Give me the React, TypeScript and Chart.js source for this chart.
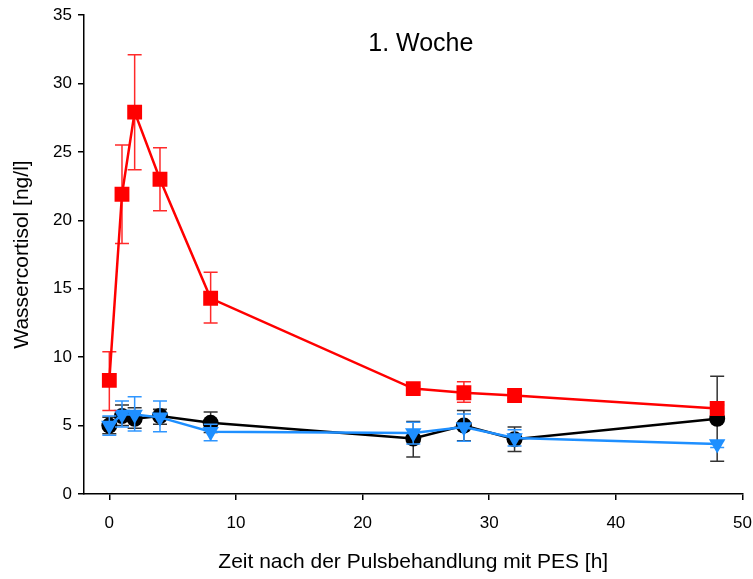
import React, { useEffect, useRef } from "react";
import { Chart, registerables } from "chart.js";

Chart.register(...registerables);

const times = [0, 1, 2, 4, 8, 24, 28, 32, 48];

const redValues = [8.3, 21.9, 27.9, 23.0, 14.3, 7.7, 7.4, 7.2, 6.25];
const redLow = [6.1, 18.3, 23.7, 20.7, 12.5, 7.5, 6.7, 7.0, 6.0];
const redHigh = [10.4, 25.5, 32.1, 25.3, 16.2, 7.9, 8.2, 7.4, 6.5];

const blackValues = [5.0, 5.7, 5.5, 5.7, 5.2, 4.05, 5.0, 4.0, 5.5];
const blackLow = [4.4, 5.0, 4.8, 5.1, 4.5, 2.7, 3.9, 3.1, 2.4];
const blackHigh = [5.6, 6.5, 6.3, 6.2, 6.0, 5.3, 6.1, 4.9, 8.6];

const blueValues = [5.0, 5.8, 5.8, 5.6, 4.55, 4.45, 4.9, 4.1, 3.65];
const blueLow = [4.3, 4.9, 4.6, 4.55, 3.9, 3.65, 3.85, 3.5, 3.4];
const blueHigh = [5.7, 6.8, 7.1, 6.8, 5.1, 5.25, 5.85, 4.7, 3.9];

const yTickLabels = ["0", "5", "10", "15", "20", "25", "30", "35"];
const xTickLabels = ["0", "10", "20", "30", "40", "50"];

const titleText = "1. Woche";
const xTitle = "Zeit nach der Pulsbehandlung mit PES [h]";
const yTitle = "Wassercortisol [ng/l]";

const FONT = "'Liberation Sans', Arial, sans-serif";

const errorBars: { low: number[]; high: number[]; color: string }[] = [
  { low: redLow, high: redHigh, color: "#ff2a2a" },
  { low: blueLow, high: blueHigh, color: "#2f96ff" },
  { low: blackLow, high: blackHigh, color: "#333333" },
];

const errorBarPlugin = {
  id: "errorBars",
  beforeDatasetDraw(chart: any, args: any) {
    const idx = args.index;
    const eb = errorBars[idx];
    if (!eb) return;
    const xs = chart.scales.x;
    const ys = chart.scales.y;
    const ctx = chart.ctx;
    ctx.save();
    ctx.strokeStyle = eb.color;
    ctx.lineWidth = 1.5;
    const cap = 7;
    times.forEach((t, i) => {
      const px = xs.getPixelForValue(t);
      const pl = ys.getPixelForValue(eb.low[i]);
      const ph = ys.getPixelForValue(eb.high[i]);
      ctx.beginPath();
      ctx.moveTo(px, pl);
      ctx.lineTo(px, ph);
      ctx.moveTo(px - cap, pl);
      ctx.lineTo(px + cap, pl);
      ctx.moveTo(px - cap, ph);
      ctx.lineTo(px + cap, ph);
      ctx.stroke();
    });
    ctx.restore();
  },
};

const titlePlugin = {
  id: "innerTitle",
  afterDraw(chart: any) {
    const ctx = chart.ctx;
    const xs = chart.scales.x;
    const ys = chart.scales.y;
    ctx.save();
    ctx.font = `25px ${FONT}`;
    ctx.fillStyle = "#000";
    ctx.textAlign = "center";
    ctx.textBaseline = "middle";
    ctx.fillText(titleText, xs.getPixelForValue(24.6), ys.getPixelForValue(32.9));
    ctx.restore();
  },
};

export default function App() {
  const ref = useRef<HTMLCanvasElement | null>(null);

  useEffect(() => {
    if (!ref.current) return;
    const mk = (vals: number[]) => times.map((t, i) => ({ x: t, y: vals[i] }));
    const chart = new Chart(ref.current, {
      type: "line",
      data: {
        datasets: [
          {
            label: "rot",
            data: mk(redValues),
            borderColor: "#ff0000",
            backgroundColor: "#ff0000",
            borderWidth: 2.5,
            pointStyle: "rect",
            pointRadius: 10.5,
            pointBorderWidth: 0,
            order: 0,
          },
          {
            label: "blau",
            data: mk(blueValues),
            borderColor: "#1e8fff",
            backgroundColor: "#1e8fff",
            borderWidth: 2.5,
            pointStyle: "triangle",
            pointRotation: 180,
            pointRadius: 9.5,
            pointBorderWidth: 0,
            order: 1,
          },
          {
            label: "schwarz",
            data: mk(blackValues),
            borderColor: "#000000",
            backgroundColor: "#000000",
            borderWidth: 2.5,
            pointStyle: "circle",
            pointRadius: 8,
            pointBorderWidth: 0,
            order: 2,
          },
        ],
      },
      options: {
        responsive: false,
        animation: false,
        layout: { padding: { left: 0, right: 10, top: 15, bottom: 0 } },
        plugins: {
          legend: { display: false },
          tooltip: { enabled: false },
        },
        scales: {
          x: {
            type: "linear",
            min: -2,
            max: 50,
            afterBuildTicks: (scale: any) => {
              scale.ticks = xTickLabels.map((v) => ({ value: Number(v) }));
            },
            afterFit: (scale: any) => {
              scale.height = 85;
              scale.paddingRight = 0;
              scale.paddingLeft = 0;
            },
            ticks: {
              color: "#000",
              font: { family: FONT, size: 17 },
              padding: 13,
              maxRotation: 0,
              callback: (v: any) => String(v),
            },
            grid: {
              drawOnChartArea: false,
              drawTicks: true,
              tickLength: 6,
              color: "#000",
              lineWidth: 1.5,
            },
            border: { display: true, color: "#000", width: 1.5 },
            title: {
              display: true,
              text: xTitle,
              color: "#000",
              font: { family: FONT, size: 21 },
              padding: { top: 12 },
            },
          },
          y: {
            type: "linear",
            min: 0,
            max: 35,
            afterBuildTicks: (scale: any) => {
              scale.ticks = yTickLabels.map((v) => ({ value: Number(v) }));
            },
            afterFit: (scale: any) => {
              scale.width = 84;
              scale.paddingTop = 0;
              scale.paddingBottom = 0;
            },
            ticks: {
              color: "#000",
              font: { family: FONT, size: 17 },
              padding: 6,
              callback: (v: any) => String(v),
            },
            grid: {
              drawOnChartArea: false,
              drawTicks: true,
              tickLength: 6,
              color: "#000",
              lineWidth: 1.5,
            },
            border: { display: true, color: "#000", width: 1.5 },
            title: {
              display: true,
              text: yTitle,
              color: "#000",
              font: { family: FONT, size: 21 },
              padding: { top: 10, bottom: 6 },
            },
          },
        },
      },
      plugins: [errorBarPlugin, titlePlugin],
    });
    return () => chart.destroy();
  }, []);

  return (
    <div style={{ position: "absolute", left: 0, top: 0, width: 753, height: 579, background: "#fff" }}>
      <canvas ref={ref} width={753} height={579} />
    </div>
  );
}
